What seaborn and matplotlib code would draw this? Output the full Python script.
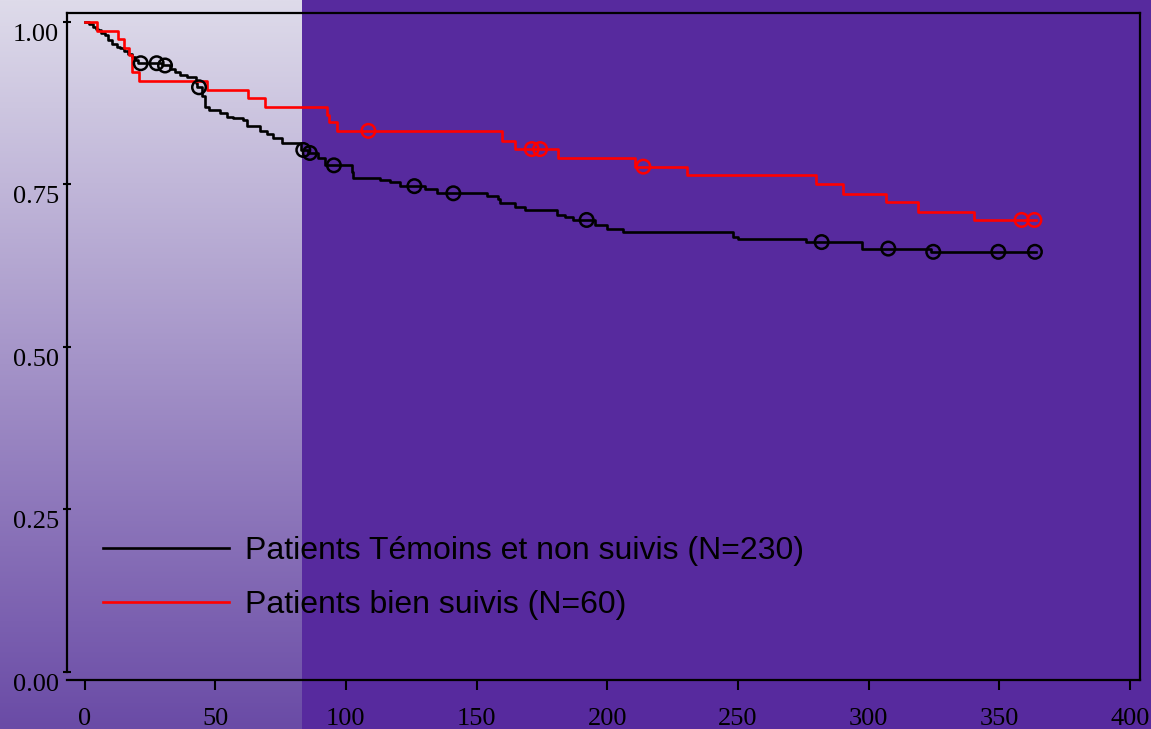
import numpy as np
import pandas as pd
import matplotlib
matplotlib.use("Agg")
import matplotlib.pyplot as plt
import matplotlib.transforms as mtransforms
from matplotlib.lines import Line2D
import seaborn as sns

# ---------------- data ----------------
black_t = [0, 1.8, 3.4, 4.4, 5.3, 6.2, 7.8, 9.1, 10.4, 12.3,
           13.6, 15.2, 16.8, 18.1, 19.3, 20.3, 29.6, 32.7, 34.6, 36.5,
           39.1, 42.5, 43.2, 44.8, 46.1, 47.7, 51.8, 54.4, 56.9, 60.7,
           62.1, 67.1, 69.7, 72.2, 75.4, 83.0, 85.6, 89.4, 92.0, 102.2,
           102.8, 113.0, 116.9, 120.7, 130.3, 134.7, 154.0, 158.0, 159.0, 164.7,
           168.5, 180.6, 183.8, 187.0, 195.3, 199.8, 206.1, 248.2, 250.1, 276.0,
           297.4, 323.8, 364.0]
black_s = [1.0, 0.996, 0.992, 0.989, 0.987, 0.982, 0.979, 0.972, 0.965, 0.961,
           0.959, 0.955, 0.950, 0.946, 0.941, 0.936, 0.9325, 0.927, 0.923, 0.918,
           0.915, 0.905, 0.899, 0.885, 0.869, 0.864, 0.859, 0.854, 0.851, 0.848,
           0.840, 0.832, 0.827, 0.821, 0.814, 0.8026, 0.798, 0.791, 0.779, 0.769,
           0.760, 0.756, 0.754, 0.747, 0.742, 0.736, 0.732, 0.727, 0.721, 0.715,
           0.710, 0.703, 0.699, 0.695, 0.688, 0.681, 0.676, 0.669, 0.665, 0.661,
           0.651, 0.646, 0.646]
black_cens_t = [21.5, 27.6, 30.8, 43.8, 83.7, 86.2, 95.4, 126.2, 141.1, 192.1,
                282.0, 307.5, 324.7, 349.6, 363.6]
black_cens_s = [0.936, 0.936, 0.9325, 0.899, 0.8026, 0.798, 0.779, 0.747, 0.736, 0.695,
                0.661, 0.651, 0.646, 0.646, 0.646]

red_t = [0, 4.9, 12.9, 15.1, 17.1, 18.1, 21.0, 46.7, 62.7, 69.1,
         92.7, 93.7, 96.7, 159.6, 164.7, 181.3, 210.6, 230.6, 279.8, 290.1,
         306.6, 319.0, 340.4, 364.0]
red_s = [1.0, 0.986, 0.973, 0.960, 0.949, 0.922, 0.909, 0.895, 0.882, 0.869,
         0.856, 0.845, 0.832, 0.817, 0.804, 0.791, 0.777, 0.764, 0.750, 0.735,
         0.722, 0.707, 0.695, 0.695]
red_cens_t = [108.6, 171.1, 174.3, 213.8, 358.5, 363.4]
red_cens_s = [0.832, 0.804, 0.804, 0.777, 0.695, 0.695]

labels = ["Patients Témoins et non suivis (N=230)", "Patients bien suivis (N=60)"]
x_ticks = [0, 50, 100, 150, 200, 250, 300, 350, 400]
y_ticks = [0.00, 0.25, 0.50, 0.75, 1.00]
y_ticklabels = ["0.00", "0.25", "0.50", "0.75", "1.00"]

# ---------------- figure ----------------
W, H, DPI = 1151, 729, 100
PURPLE = "#572a9e"
fig = plt.figure(figsize=(W / DPI, H / DPI), dpi=DPI, facecolor=PURPLE)

# gradient panel on the left side of the figure
gax = fig.add_axes([0, 0, 302 / W, 1], zorder=0)
top_c = np.array([222, 219, 234]) / 255
bot_c = np.array([106, 75, 166]) / 255
f = np.linspace(0, 1, 256)[:, None]
grad = top_c[None, :] * (1 - f) + bot_c[None, :] * f
gax.imshow(grad[:, None, :], aspect="auto", extent=[0, 1, 0, 1])
gax.set_axis_off()

ax = fig.add_axes([67 / W, 1 - 680 / H, (1140 - 67) / W, (680 - 13) / H], zorder=1)
ax.patch.set_alpha(0)

LW = 1.9
df_b = pd.DataFrame({"t": black_t, "s": black_s})
df_r = pd.DataFrame({"t": red_t, "s": red_s})
sns.lineplot(data=df_b, x="t", y="s", ax=ax, color="black", lw=LW,
             drawstyle="steps-post", estimator=None, sort=False, zorder=3)
sns.lineplot(data=df_r, x="t", y="s", ax=ax, color="#ff0000", lw=LW,
             drawstyle="steps-post", estimator=None, sort=False, zorder=4)
sns.scatterplot(x=black_cens_t, y=black_cens_s, ax=ax, marker="o", s=95,
                facecolor="none", edgecolor="black", linewidth=1.8, zorder=5)
sns.scatterplot(x=red_cens_t, y=red_cens_s, ax=ax, marker="o", s=95,
                facecolor="none", edgecolor="#ff0000", linewidth=1.8, zorder=6)

ax.set_xlim(-6.7, 403.8)
ax.set_ylim(-0.0123, 1.0132)
ax.set_xlabel("")
ax.set_ylabel("")

for sp in ax.spines.values():
    sp.set_color("black")
    sp.set_linewidth(1.6)
ax.spines["left"].set_bounds(0.0, 1.0132)

ax.set_xticks(x_ticks)
ax.set_xticklabels([str(v) for v in x_ticks])
ax.set_yticks(y_ticks)
ax.set_yticklabels(y_ticklabels)
ax.tick_params(axis="x", direction="out", length=7, width=1.5, pad=13,
               labelsize=19, colors="black")
ax.tick_params(axis="y", direction="inout", length=6, width=1.5, pad=3,
               labelsize=19, colors="black")
for lab in ax.get_xticklabels() + ax.get_yticklabels():
    lab.set_fontfamily("Liberation Serif")

off = mtransforms.ScaledTranslation(0, -13 / DPI, fig.dpi_scale_trans)
for tk in ax.yaxis.get_major_ticks():
    tk.label1.set_va("center")
    tk.label1.set_transform(tk.label1.get_transform() + off)

handles = [Line2D([], [], color="black", lw=LW),
           Line2D([], [], color="#ff0000", lw=LW)]
leg = ax.legend(handles, labels, loc="center left",
                bbox_to_anchor=(103 / W, 1 - 578 / H), bbox_transform=fig.transFigure,
                frameon=False, borderpad=0, borderaxespad=0,
                handlelength=3.95, handletextpad=0.5, labelspacing=0.75,
                prop={"family": "Liberation Sans", "size": 23})
for t in leg.get_texts():
    t.set_color("black")

fig.savefig("out.png", dpi=DPI, facecolor=PURPLE)
